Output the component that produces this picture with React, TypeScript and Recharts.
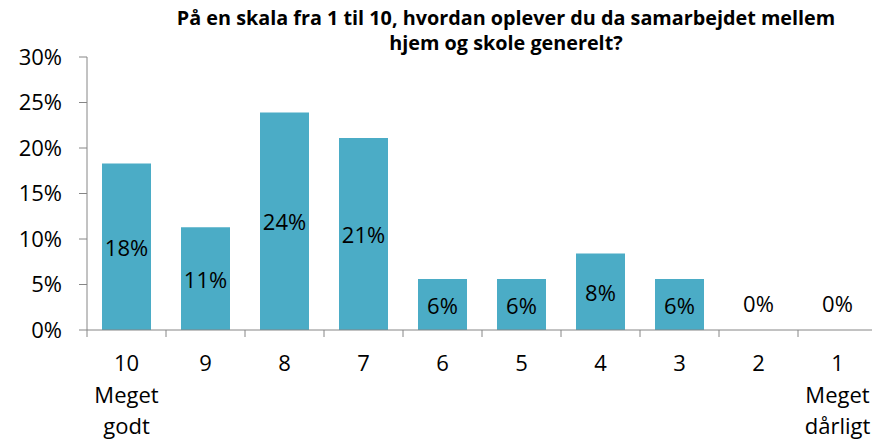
import React from "react";
import { BarChart, Bar, XAxis, YAxis, LabelList } from "recharts";

const categories = ["10", "9", "8", "7", "6", "5", "4", "3", "2", "1"];
const subLabels = [["Meget", "godt"], [], [], [], [], [], [], [], [], ["Meget", "dårligt"]];
const values = [18.3, 11.3, 23.9, 21.1, 5.6, 5.6, 8.4, 5.6, 0, 0];
const yTicks = [0, 5, 10, 15, 20, 25, 30];
const titleLines = [
  "På en skala fra 1 til 10, hvordan oplever du da samarbejdet mellem",
  "hjem og skole generelt?",
];

const data = categories.map((c, i) => ({ cat: c, sub: subLabels[i], value: values[i] }));

const CHART_W = 890;
const CHART_H = 439;
const MARGIN = { top: 57, right: 13, bottom: 0, left: 0 };
const Y_W = 87;
const X_H = 109;
const PLOT_W = CHART_W - MARGIN.right - MARGIN.left - Y_W;
const BAND = PLOT_W / categories.length;
const FONT = "'Open Sans', sans-serif";
const FS = 22;
const AXIS_COLOR = "#868686";
const BAR_COLOR = "#4BACC6";
const ZERO_LABEL_LIFT = 27.5;

const fmtPct = (v: number) => Math.round(v) + "%";

const XTick = (props: any) => {
  const { x, y, payload, index } = props;
  const entry = data[index] || { sub: [], value: 1 };
  const lines = [payload.value, ...(entry.sub || [])];
  const isLast = index === categories.length - 1;
  return (
    <g>
      <line x1={x - BAND / 2} x2={x - BAND / 2} y1={y} y2={y + 7} stroke={AXIS_COLOR} strokeWidth={1} />
      {isLast && (
        <line x1={x + BAND / 2} x2={x + BAND / 2} y1={y} y2={y + 7} stroke={AXIS_COLOR} strokeWidth={1} />
      )}
      {lines.map((t: string, i: number) => (
        <text
          key={i}
          x={x}
          y={y + 41 + i * 31.5}
          textAnchor="middle"
          fontFamily={FONT}
          fontSize={FS}
          fill="#000"
        >
          {t}
        </text>
      ))}
      {entry.value === 0 && (
        <text
          x={x}
          y={y - ZERO_LABEL_LIFT}
          textAnchor="middle"
          dominantBaseline="central"
          fontFamily={FONT}
          fontSize={FS}
          fill="#000"
        >
          {fmtPct(entry.value)}
        </text>
      )}
    </g>
  );
};

const BarLabel = (props: any) => {
  const { x, y, width, height, value } = props;
  if (!(height > 0.5)) return null;
  return (
    <text
      x={x + width / 2}
      y={y + height / 2}
      textAnchor="middle"
      dominantBaseline="central"
      fontFamily={FONT}
      fontSize={FS}
      fill="#000"
    >
      {fmtPct(value)}
    </text>
  );
};

export default function App() {
  return (
    <div
      style={{
        position: "fixed",
        left: 0,
        top: 0,
        width: 872,
        height: 439,
        overflow: "hidden",
        background: "#fff",
      }}
    >
      <BarChart width={CHART_W} height={CHART_H} data={data} margin={MARGIN} barSize={49}>
        <YAxis
          width={Y_W}
          domain={[0, 30]}
          ticks={yTicks}
          interval={0}
          tickFormatter={(v: number) => v + "%"}
          axisLine={{ stroke: AXIS_COLOR, strokeWidth: 1 }}
          tickLine={{ stroke: AXIS_COLOR, strokeWidth: 1 }}
          tickSize={8}
          tickMargin={17}
          tick={{ fontFamily: FONT, fontSize: FS, fill: "#000" }}
        />
        <XAxis
          dataKey="cat"
          height={X_H}
          interval={0}
          axisLine={{ stroke: AXIS_COLOR, strokeWidth: 1 }}
          tickLine={false}
          tickSize={0}
          tickMargin={0}
          tick={<XTick />}
        />
        <Bar dataKey="value" fill={BAR_COLOR} isAnimationActive={false}>
          <LabelList dataKey="value" content={<BarLabel />} />
        </Bar>
      </BarChart>
      <svg
        width={872}
        height={60}
        style={{ position: "absolute", left: 0, top: 0, pointerEvents: "none" }}
      >
        {titleLines.map((t, i) => (
          <text
            key={i}
            x={506}
            y={24.5 + i * 25.5}
            textAnchor="middle"
            fontFamily={FONT}
            fontWeight="bold"
            fontSize={19.8}
            fill="#000"
          >
            {t}
          </text>
        ))}
      </svg>
    </div>
  );
}
